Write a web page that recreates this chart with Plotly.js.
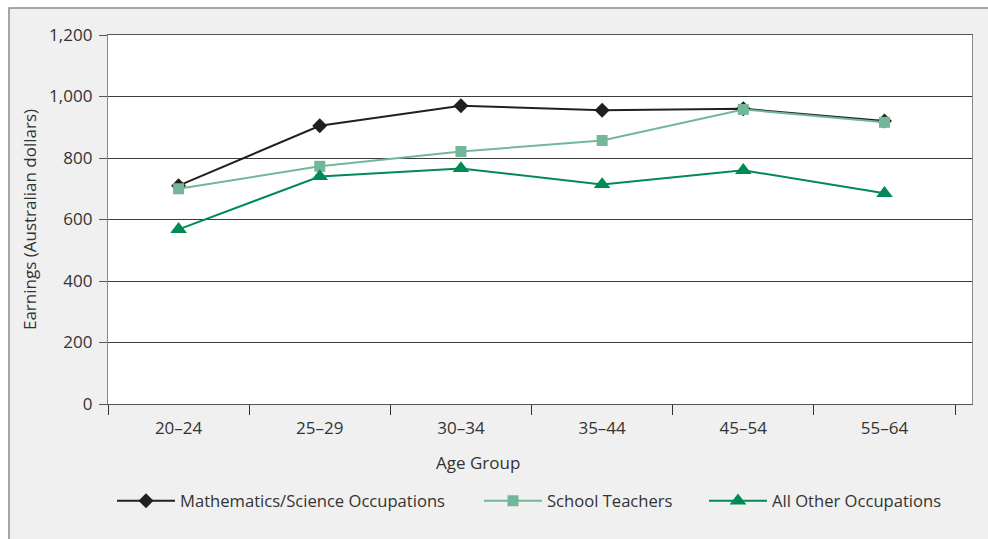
<!DOCTYPE html>
<html>
<head>
<meta charset="utf-8">
<script src="https://cdn.plot.ly/plotly-3.0.1.min.js"></script>
<style>html,body{margin:0;padding:0;background:#fff;}#chart{width:988px;height:539px;}</style>
</head>
<body>
<div id="chart"></div>
<script>
const ageGroups = ["20\u201324", "25\u201329", "30\u201334", "35\u201344", "45\u201354", "55\u201364"];
const mathScience = [710, 905, 970, 955, 960, 920];
const schoolTeachers = [700, 773, 821, 857, 958, 916];
const allOther = [568, 740, 766, 714, 760, 685];
const seriesNames = ["Mathematics/Science Occupations", "School Teachers", "All Other Occupations"];
const yTicks = [0, 200, 400, 600, 800, 1000, 1200];
const yTickText = ["0", "200", "400", "600", "800", "1,000", "1,200"];

const FONT = "'Open Sans', 'Noto Sans', sans-serif";
const FS = 17;
const traces = [
  {x: ageGroups, y: mathScience, name: seriesNames[0], type: "scatter", mode: "lines+markers", legend: "legend",
   line: {color: "#231f20", width: 2}, marker: {symbol: "diamond", size: 11.5, color: "#231f20"}},
  {x: ageGroups, y: schoolTeachers, name: seriesNames[1], type: "scatter", mode: "lines+markers", legend: "legend2",
   line: {color: "#72b79a", width: 2}, marker: {symbol: "square", size: 11, color: "#72b79a"}},
  {x: ageGroups, y: allOther, name: seriesNames[2], type: "scatter", mode: "lines+markers", legend: "legend3",
   line: {color: "#008a55", width: 2}, marker: {symbol: "triangle-up", size: 14.5, color: "#008a55"}}
];

const PW = 864, PH = 369, L = 108, T = 35;
const px = v => (v - L) / PW;
const py = v => (T + PH - v) / PH;
function leg(textX) {
  return {orientation: "h", x: px(textX - 68), xanchor: "left", y: py(501), yanchor: "middle",
          font: {family: FONT, size: 16.6, color: "#333333"}, itemwidth: 58, bgcolor: "rgba(0,0,0,0)"};
}

const layout = {
  width: 988, height: 539,
  margin: {l: L, r: 988 - L - PW, t: T, b: 539 - T - PH},
  paper_bgcolor: "#ffffff",
  plot_bgcolor: "rgba(0,0,0,0)",
  font: {family: FONT, size: FS, color: "#333333"},
  showlegend: true,
  legend: leg(180),
  legend2: leg(547),
  legend3: leg(772),
  xaxis: {
    type: "category", range: [-0.5, 5.62], fixedrange: true,
    showgrid: false, showline: true, linecolor: "#555555", linewidth: 1.2, mirror: true,
    ticks: "outside", tickson: "boundaries", ticklen: 10, tickcolor: "#333333", tickwidth: 1,
    ticklabelstandoff: 8,
    tickfont: {family: FONT, size: FS, color: "#333333"}, zeroline: false
  },
  yaxis: {
    range: [0, 1200], tickvals: yTicks, ticktext: yTickText, fixedrange: true,
    showgrid: true, gridcolor: "#3a3a3a", gridwidth: 1,
    showline: true, linecolor: "#888888", linewidth: 1.2, mirror: true,
    ticks: "outside", ticklen: 8, tickcolor: "#555555", tickwidth: 1,
    ticklabelstandoff: 3,
    tickfont: {family: FONT, size: FS, color: "#333333"}, zeroline: false,
    title: {text: "Earnings (Australian dollars)", font: {family: FONT, size: FS, color: "#333333"}, standoff: 8}
  },
  annotations: [
    {text: "Age Group", xref: "paper", yref: "paper", x: px(478), y: py(462),
     xanchor: "center", yanchor: "middle", showarrow: false, font: {family: FONT, size: FS, color: "#333333"}}
  ],
  shapes: [
    {type: "rect", xref: "paper", yref: "paper", x0: px(9), x1: 1.2, y0: -0.6, y1: py(8),
     fillcolor: "#f0f0f0", line: {color: "#8a8a8a", width: 1.5}, layer: "below"},
    {type: "rect", xref: "paper", yref: "paper", x0: 0, x1: 1, y0: 0, y1: 1,
     fillcolor: "#ffffff", line: {width: 0}, layer: "below"}
  ]
};

Plotly.newPlot("chart", traces, layout, {displayModeBar: false, staticPlot: true});
</script>
</body>
</html>
